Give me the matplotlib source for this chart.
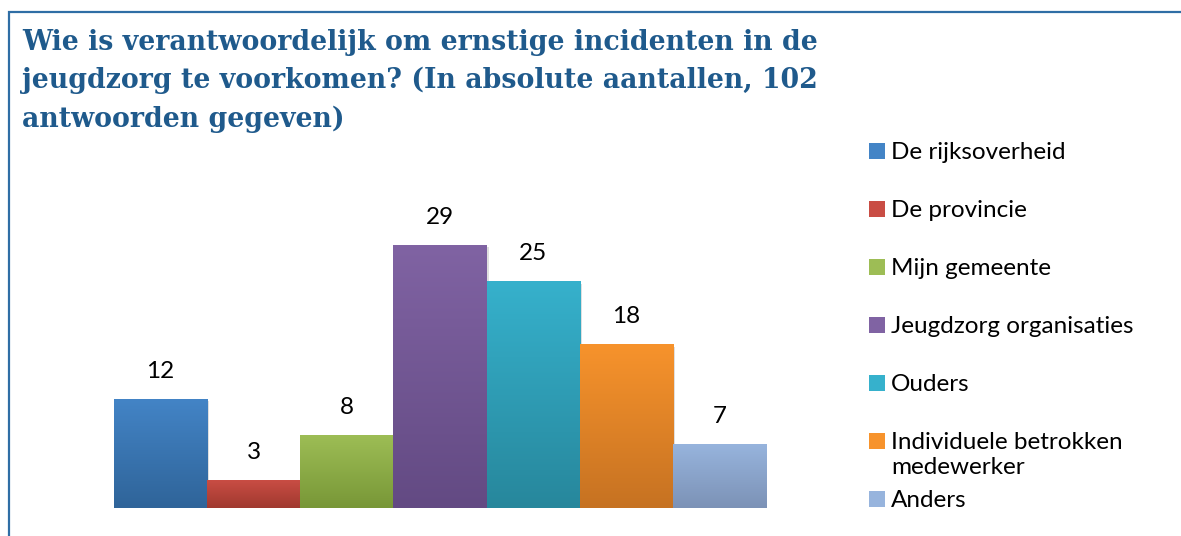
import numpy as np
import matplotlib.pyplot as plt
import matplotlib.patheffects as pe
from matplotlib.colors import LinearSegmentedColormap
from matplotlib.patches import Rectangle


title = ("Wie is verantwoordelijk om ernstige incidenten in de\n"
         "jeugdzorg te voorkomen? (In absolute aantallen, 102\n"
         "antwoorden gegeven)")

categories = ["De rijksoverheid", "De provincie", "Mijn gemeente",
              "Jeugdzorg organisaties", "Ouders",
              "Individuele betrokken\nmedewerker", "Anders"]
counts = [12, 3, 8, 29, 25, 18, 7]

# gradient colours per bar (top, bottom)
topColors = ["#4384C6", "#C94D44", "#9DBD55", "#8063A3", "#36B1CC", "#F7932C", "#97B4DD"]
botColors = ["#2F6499", "#A0392F", "#789737", "#634A83", "#27879C", "#C67222", "#7C92B6"]

W, H = 1181, 536
fontMain = ["Lato", "DejaVu Sans"]
fontTitle = ["DejaVu Serif"]


def px (x, y):
    # pixel position (from top-left) -> figure fraction
    return (x / W, 1.0 - y / H)


fig = plt.figure(figsize=(W / 100, H / 100), dpi=100)

# frame around the chart, open at the right and bottom
fig.patches.append(Rectangle(px(9, 560), 1.2, (560 - 11.5) / H, transform=fig.transFigure,
                             fill=False, edgecolor="#2F6EA5", linewidth=1.6))

fig.text(*px(22, 29), title, ha="left", va="top", fontsize=19.3, fontweight="bold",
         family=fontTitle, color="#1F5A8C", linespacing=1.52)

# plot area: baseline at y=508, bars from x=114 to x=766
left, right = 114, 766
base, top = 508, 100
ax = fig.add_axes([left / W, 1 - base / H, (right - left) / W, (base - top) / H])
yTop = (base - top) / (108.7 / 12)

x = np.arange(len(counts))
ax.bar(x, counts, width=1.0, color=botColors, zorder=2,
       path_effects=[pe.SimplePatchShadow(offset=(1.5, -1.5), shadow_rgbFace="gray", alpha=0.25),
                     pe.Normal()])

grad = np.linspace(0, 1, 256).reshape(-1, 1)
for i, v in enumerate(counts):
    cmap = LinearSegmentedColormap.from_list("bar%d" % i, [botColors[i], topColors[i]])
    ax.imshow(grad, extent=(i - 0.5, i + 0.5, 0, v), origin="lower", cmap=cmap,
              aspect="auto", zorder=3, interpolation="bilinear")
    ax.annotate(str(v), (i, v), xytext=(0, 28), textcoords="offset pixels",
                ha="center", va="center", fontsize=17.5, family=fontMain, color="black")

ax.set_xlim(-0.5, len(counts) - 0.5)
ax.set_ylim(0, yTop)
ax.axis("off")

# legend, drawn entry by entry
for i, (name, c) in enumerate(zip(categories, topColors)):
    yc = 151 + 58 * i
    sq = Rectangle(px(869, yc + 8), 16 / W, 16 / H, transform=fig.transFigure,
                   facecolor=c, edgecolor="none")
    fig.patches.append(sq)
    fig.text(*px(891, yc - 9), name, ha="left", va="top", fontsize=17.5,
             family=fontMain, color="black", linespacing=1.22)

fig.savefig("out.png", dpi=100)
